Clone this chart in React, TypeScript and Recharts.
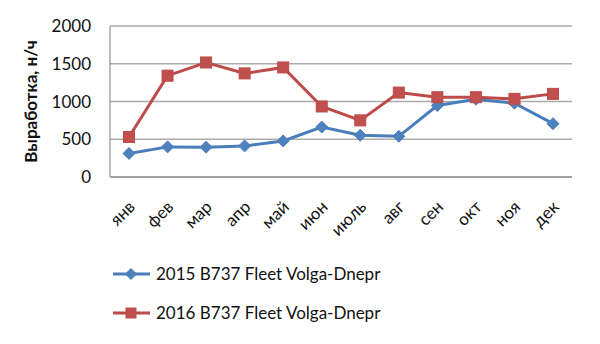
import { CartesianGrid, Legend, Line, LineChart, XAxis, YAxis } from "recharts"

const months = ["янв", "фев", "мар", "апр", "май", "июн", "июль", "авг", "сен", "окт", "ноя", "дек"]
const fleet2015 = [312, 399, 395, 412, 478, 662, 553, 539, 947, 1030, 978, 706]
const fleet2016 = [530, 1342, 1517, 1372, 1451, 934, 750, 1118, 1057, 1057, 1035, 1101]
const yTicks = [0, 500, 1000, 1500, 2000]
const name2015 = "2015 B737 Fleet Volga-Dnepr"
const name2016 = "2016 B737 Fleet Volga-Dnepr"

const data = months.map((m, i) => ({ month: m, a: fleet2015[i], b: fleet2016[i] }))

const FONT = "Lato, 'Liberation Sans', sans-serif"
const TEXT = "#111"
const BLUE = "#4A7EBB"
const BLUE_FILL = "#4F81BD"
const RED = "#BE4B48"
const RED_FILL = "#C0504D"

function Diamond({ cx, cy, half = 6 }: { cx?: number; cy?: number; half?: number }) {
  if (cx == null || cy == null) return null
  return (
    <polygon
      points={`${cx},${cy - half} ${cx + half},${cy} ${cx},${cy + half} ${cx - half},${cy}`}
      fill={BLUE_FILL}
      stroke={BLUE}
      strokeWidth={1}
    />
  )
}

function Square({ cx, cy, side = 11 }: { cx?: number; cy?: number; side?: number }) {
  if (cx == null || cy == null) return null
  return (
    <rect x={cx - side / 2} y={cy - side / 2} width={side} height={side} fill={RED_FILL} stroke={RED} strokeWidth={1} />
  )
}

function MonthTick({ x, y, payload }: any) {
  const ax = x + 7
  const ay = y + 23
  return (
    <text
      x={ax}
      y={ay}
      transform={`rotate(-45, ${ax}, ${ay})`}
      textAnchor="end"
      fontFamily={FONT}
      fontSize={17}
      fill={TEXT}
    >
      {payload.value}
    </text>
  )
}

function LegendBox() {
  const rows = [
    { name: name2015, color: BLUE, marker: <Diamond cx={19} cy={10} half={5.5} /> },
    { name: name2016, color: RED, marker: <Square cx={19} cy={10} side={10} /> },
  ]
  return (
    <div style={{ fontFamily: FONT, fontSize: 17, color: TEXT }}>
      {rows.map((r) => (
        <div key={r.name} style={{ display: "flex", alignItems: "center", height: 39 }}>
          <svg width={40} height={20} style={{ marginRight: 4 }}>
            <line x1={1} y1={10} x2={38} y2={10} stroke={r.color} strokeWidth={3} />
            {r.marker}
          </svg>
          <span>{r.name}</span>
        </div>
      ))}
    </div>
  )
}

export default function App() {
  return (
    <div style={{ position: "absolute", left: 0, top: 0, width: 600, height: 344, background: "#fff" }}>
      <LineChart width={600} height={344} data={data} margin={{ top: 26, right: 28, left: 0, bottom: 12 }}>
        <CartesianGrid vertical={false} stroke="#ABABAB" strokeWidth={1.3} />
        <XAxis
          dataKey="month"
          height={77}
          padding={{ left: 19, right: 19 }}
          tickLine={false}
          axisLine={{ stroke: "#9A9A9A", strokeWidth: 1.3 }}
          tick={<MonthTick />}
          interval={0}
        />
        <YAxis
          width={110}
          domain={[0, 2000]}
          ticks={yTicks}
          tickLine={false}
          tickSize={0}
          tickMargin={19}
          axisLine={{ stroke: "#9A9A9A", strokeWidth: 1.3 }}
          tick={{ fontFamily: FONT, fontSize: 17, fill: TEXT }}
          label={({ viewBox }: any) => (
            <text
              x={viewBox.x + 30}
              y={viewBox.y + viewBox.height / 2}
              transform={`rotate(-90, ${viewBox.x + 30}, ${viewBox.y + viewBox.height / 2})`}
              textAnchor="middle"
              dominantBaseline="central"
              fontFamily={FONT}
              fontSize={17}
              fontWeight="bold"
              fill={TEXT}
            >
              Выработка, н/ч
            </text>
          )}
        />
        <Legend
          verticalAlign="bottom"
          align="center"
          layout="horizontal"
          content={<LegendBox />}
          wrapperStyle={{ left: 112, width: 340, height: 78 }}
        />
        <Line
          dataKey="a"
          name={name2015}
          stroke={BLUE}
          strokeWidth={3}
          dot={<Diamond />}
          activeDot={false}
          isAnimationActive={false}
        />
        <Line
          dataKey="b"
          name={name2016}
          stroke={RED}
          strokeWidth={3}
          dot={<Square />}
          activeDot={false}
          isAnimationActive={false}
        />
      </LineChart>
    </div>
  )
}
